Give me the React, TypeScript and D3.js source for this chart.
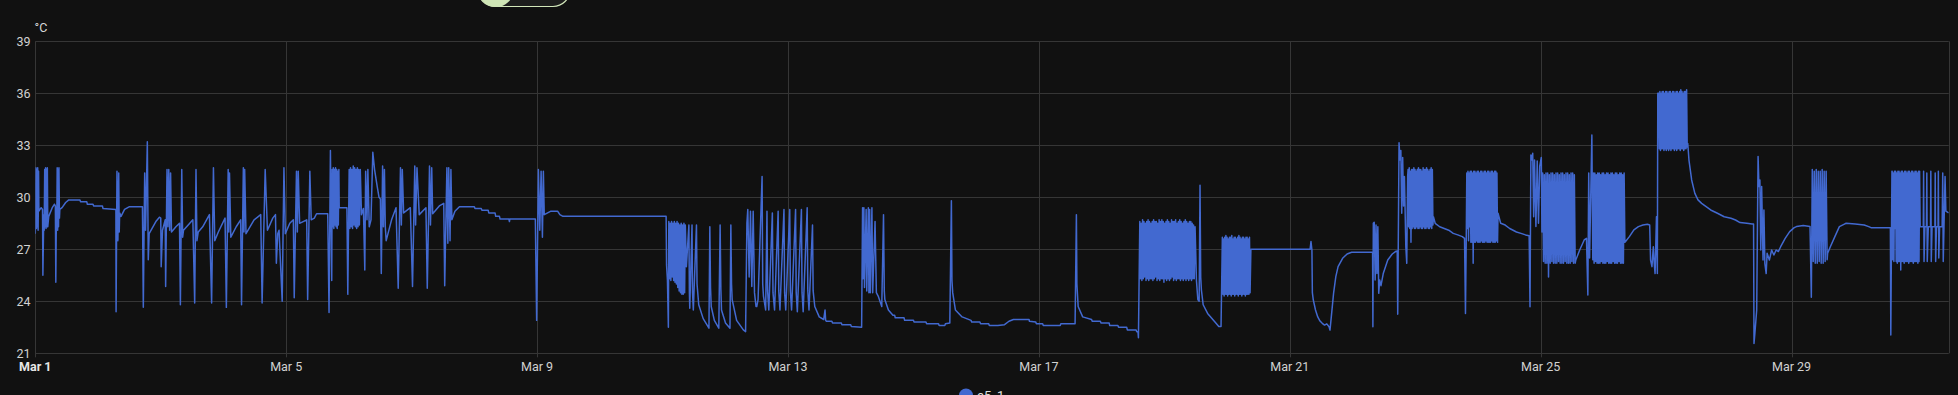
import React, { useMemo } from "react";
import * as d3 from "d3";

// temperature sensor, March
// times are days after Mar 1 00:00, temps in °C
const unit = "°C";
const seriesName = "e5_1";
const yTicks = [21, 24, 27, 30, 33, 36, 39];
const xTickDays = [1, 5, 9, 13, 17, 21, 25, 29];
const rangeDays = 30.505;

const mar1to9: [number, number][] = [
  [0.0, 27.9], [0.01, 31.7], [0.018, 28.2], [0.024, 31.6], [0.03, 28.3], [0.038, 31.7], [0.045, 28.1], [0.052, 31.5],
  [0.057, 29.2], [0.093, 29.4], [0.115, 29.3], [0.121, 25.5], [0.135, 29.0], [0.142, 28.1], [0.15, 31.6], [0.156, 28.3],
  [0.164, 31.7], [0.171, 28.2], [0.178, 31.6], [0.185, 28.3], [0.192, 31.7], [0.199, 28.3], [0.214, 28.9], [0.27, 29.4],
  [0.306, 29.6], [0.32, 29.5], [0.327, 25.1], [0.335, 28.5], [0.342, 28.2], [0.349, 31.7], [0.356, 28.1], [0.363, 31.6],
  [0.37, 28.3], [0.377, 31.7], [0.385, 28.8], [0.391, 29.3], [0.427, 29.4], [0.484, 29.7], [0.534, 29.85], [0.712, 29.85],
  [0.72, 29.75], [0.82, 29.75], [0.83, 29.6], [0.92, 29.6], [0.93, 29.5], [1.07, 29.5], [1.08, 29.35], [1.285, 29.3],
  [1.288, 23.4], [1.302, 31.5], [1.317, 27.5], [1.33, 31.4], [1.338, 28.0], [1.345, 29.1], [1.367, 28.9], [1.423, 29.3],
  [1.495, 29.45], [1.708, 29.45],
  [1.722, 23.65], [1.744, 31.4], [1.758, 28.1], [1.786, 33.2], [1.801, 26.4], [1.815, 27.9], [1.922, 28.6], [1.979, 28.85],
  [2.0, 28.8], [2.007, 26.0], [2.028, 28.1], [2.071, 28.7], [2.078, 24.85], [2.1, 31.6], [2.114, 28.3], [2.128, 31.6],
  [2.142, 28.1], [2.157, 31.4], [2.171, 28.0], [2.242, 28.3], [2.299, 28.5],
  [2.313, 23.8], [2.335, 31.6], [2.349, 27.7], [2.363, 28.1], [2.512, 28.7],
  [2.541, 23.9], [2.562, 31.6], [2.577, 27.5], [2.598, 28.0], [2.669, 28.3], [2.776, 29.0],
  [2.811, 23.9], [2.84, 31.7], [2.861, 27.5], [2.918, 28.0], [3.025, 28.8],
  [3.046, 23.65], [3.075, 31.6], [3.085, 28.0], [3.096, 31.4], [3.117, 27.7], [3.203, 28.3], [3.274, 28.7],
  [3.288, 23.8], [3.317, 31.7], [3.327, 28.0], [3.338, 31.6], [3.359, 27.9], [3.488, 28.7], [3.594, 29.0],
  [3.616, 23.9], [3.665, 31.6], [3.701, 28.1], [3.786, 28.8], [3.829, 29.0], [3.843, 26.2], [3.865, 27.9], [3.886, 28.1],
  [3.936, 24.0], [3.964, 31.7], [3.986, 27.9], [4.057, 28.5], [4.114, 28.7],
  [4.128, 24.2], [4.164, 31.5], [4.178, 28.0], [4.192, 31.5], [4.214, 28.5], [4.327, 28.7],
  [4.342, 24.1], [4.377, 31.5], [4.399, 28.7], [4.448, 28.8], [4.484, 29.05], [4.662, 29.05],
  [4.683, 23.35], [4.705, 32.7], [4.726, 25.2], [4.845, 29.4], [4.968, 29.4],
  [4.982, 24.4], [5.181, 31.6], [5.2, 29.0], [5.231, 29.35], [5.253, 25.8], [5.267, 31.5], [5.288, 28.7], [5.302, 31.6],
  [5.324, 28.3], [5.352, 28.7], [5.381, 32.6], [5.409, 31.6], [5.452, 30.6], [5.48, 30.0], [5.502, 29.9], [5.516, 25.6],
  [5.537, 31.8], [5.55, 28.3], [5.566, 31.6], [5.58, 28.3], [5.594, 27.5], [5.68, 28.7], [5.751, 29.4],
  [5.786, 24.75], [5.822, 31.7], [5.836, 28.4], [5.851, 31.6], [5.872, 29.1], [5.979, 29.4],
  [6.014, 24.85], [6.05, 31.8], [6.063, 28.4], [6.085, 31.7], [6.121, 29.0], [6.228, 29.4],
  [6.249, 24.75], [6.285, 31.8], [6.3, 28.4], [6.32, 31.7], [6.335, 29.05], [6.441, 29.5], [6.512, 29.65],
  [6.527, 24.9], [6.562, 31.7], [6.577, 27.35], [6.591, 31.7], [6.612, 27.5], [6.626, 31.6], [6.641, 28.7], [6.69, 29.2],
  [6.762, 29.45], [7.0, 29.45], [7.01, 29.35], [7.11, 29.35], [7.12, 29.25], [7.22, 29.25], [7.23, 29.1], [7.33, 29.1],
  [7.34, 28.9], [7.4, 28.9], [7.41, 28.75], [7.55, 28.75], [7.559, 28.6], [7.566, 28.75], [7.972, 28.75],
  [7.993, 22.9], [8.021, 31.6], [8.043, 28.1], [8.064, 31.5], [8.085, 27.7], [8.1, 31.5], [8.114, 29.0], [8.221, 29.2],
  [8.327, 29.2], [8.363, 29.0], [8.413, 28.9],
];

const mar9to17: [number, number][] = [
  [10.057, 28.9], [10.064, 26.1], [10.078, 25.2], [10.093, 22.5],
  [10.38, 26.0], [10.42, 28.4], [10.428, 24.5], [10.434, 23.6], [10.47, 28.4], [10.478, 24.5], [10.491, 23.5],
  [10.541, 28.4], [10.55, 25.0], [10.577, 23.8], [10.648, 23.0], [10.74, 22.45], [10.754, 28.3], [10.765, 24.8],
  [10.776, 23.7], [10.826, 22.9], [10.897, 22.45], [10.918, 28.4], [10.93, 24.7], [10.94, 23.5], [11.004, 22.75],
  [11.075, 22.45], [11.089, 28.4], [11.1, 25.0], [11.11, 24.1], [11.181, 22.9], [11.288, 22.35], [11.324, 22.25],
  [11.345, 28.5], [11.359, 29.3], [11.381, 25.4], [11.402, 29.2], [11.423, 24.85], [11.445, 29.2], [11.466, 24.5],
  [11.49, 23.7], [11.502, 23.7], [11.523, 24.1], [11.587, 31.2], [11.597, 25.0], [11.609, 24.3], [11.644, 23.5],
  [11.665, 29.2], [11.675, 24.6], [11.694, 23.5], [11.751, 29.1], [11.761, 24.5], [11.786, 23.5], [11.843, 29.2],
  [11.853, 24.6], [11.872, 23.5], [11.936, 29.3], [11.946, 24.5], [11.964, 23.5], [12.028, 29.3], [12.038, 24.6],
  [12.057, 23.5], [12.121, 29.3], [12.131, 24.5], [12.149, 23.4], [12.214, 29.3], [12.224, 24.5], [12.242, 23.4],
  [12.306, 29.4], [12.316, 24.6], [12.335, 23.5], [12.391, 28.4], [12.401, 24.6], [12.427, 23.7], [12.498, 23.1],
  [12.569, 22.95], [12.591, 23.5], [12.6, 22.9], [12.612, 22.85], [12.7, 22.85], [12.71, 22.75], [12.85, 22.75],
  [12.86, 22.65], [13.0, 22.65], [13.01, 22.55], [13.174, 22.5],
  [13.189, 29.4], [13.196, 25.3], [13.21, 29.4], [13.22, 24.8], [13.246, 29.3], [13.256, 24.6], [13.281, 29.4],
  [13.29, 24.5], [13.302, 29.3], [13.312, 24.5], [13.338, 29.4], [13.35, 24.5], [13.388, 28.6], [13.409, 24.5],
  [13.438, 24.3], [13.495, 23.7], [13.523, 29.0], [13.535, 24.6], [13.544, 24.1], [13.601, 23.5], [13.673, 23.2],
  [13.7, 23.2], [13.71, 23.05], [13.85, 23.05], [13.86, 22.9], [14.0, 22.9], [14.01, 22.8], [14.2, 22.8],
  [14.21, 22.7], [14.4, 22.7], [14.41, 22.6], [14.5, 22.6], [14.51, 22.7], [14.58, 22.75],
  [14.605, 29.8], [14.614, 25.2], [14.626, 24.5], [14.669, 23.5], [14.776, 23.1], [14.918, 22.9], [14.93, 22.8],
  [15.06, 22.8], [15.07, 22.7], [15.2, 22.7], [15.21, 22.6], [15.345, 22.6], [15.452, 22.65], [15.523, 22.85],
  [15.594, 22.95], [15.843, 22.95], [15.85, 22.85], [15.95, 22.8], [15.96, 22.7], [16.06, 22.7], [16.07, 22.6],
  [16.34, 22.6], [16.35, 22.7], [16.577, 22.7],
  [16.598, 29.0], [16.606, 25.0], [16.626, 23.7], [16.698, 23.1], [16.84, 22.95], [16.85, 22.85], [16.98, 22.85],
  [16.99, 22.75], [17.12, 22.75], [17.13, 22.6], [17.26, 22.6], [17.27, 22.5], [17.4, 22.5], [17.41, 22.35],
  [17.55, 22.35], [17.56, 22.25], [17.58, 22.25],
];

const mar17to25: [number, number][] = [
  [17.587, 21.9],
  [18.49, 28.3], [18.512, 25.2], [18.534, 24.1], [18.555, 24.0], [18.569, 30.7], [18.58, 25.4], [18.591, 24.65],
  [18.619, 23.8], [18.69, 23.3], [18.797, 22.85], [18.868, 22.55], [18.904, 22.55],
  [19.38, 27.0], [20.324, 27.0], [20.338, 27.45], [20.353, 26.96], [20.36, 24.5], [20.374, 24.1], [20.41, 23.5],
  [20.446, 23.1], [20.482, 22.86], [20.518, 22.73], [20.554, 22.63], [20.59, 22.7], [20.626, 22.53], [20.641, 22.34],
  [20.662, 23.1], [20.698, 24.46], [20.734, 25.42], [20.77, 26.0], [20.842, 26.48], [20.914, 26.73], [20.986, 26.83],
  [21.32, 26.83],
  [21.325, 22.53], [21.332, 28.5], [21.346, 28.56], [21.361, 25.23], [21.375, 28.4], [21.389, 25.6], [21.404, 28.3],
  [21.418, 24.46], [21.433, 25.23], [21.454, 24.9], [21.49, 25.6], [21.562, 26.38], [21.634, 26.73], [21.685, 26.87],
  [21.713, 26.9],
  [21.721, 23.26], [21.742, 33.15], [21.757, 32.15], [21.771, 32.7], [21.785, 29.08], [21.8, 32.3], [21.814, 29.5],
  [21.828, 31.2], [21.85, 27.15], [21.865, 26.19], [21.879, 31.2],
  [22.29, 28.88], [22.318, 28.5], [22.39, 28.3], [22.462, 28.2], [22.534, 28.1], [22.606, 27.92], [22.678, 27.83],
  [22.75, 27.73], [22.786, 27.63],
  [22.801, 23.3], [22.815, 28.2],
  [23.32, 29.08], [23.362, 28.5], [23.434, 28.4], [23.506, 28.2], [23.614, 28.0], [23.686, 27.92], [23.758, 27.83],
  [23.816, 27.78],
  [23.83, 23.69], [23.844, 32.44], [23.859, 32.15], [23.873, 32.54], [23.888, 28.88], [23.902, 32.15], [23.924, 28.31],
  [23.945, 32.1], [23.965, 28.5], [23.985, 31.8], [24.01, 32.3], [24.02, 28.0],
  [24.56, 26.38], [24.622, 26.96], [24.694, 27.54], [24.73, 27.63],
  [24.752, 24.36], [24.766, 31.4], [24.78, 26.5], [24.816, 33.6], [24.831, 26.4],
];

const mar25to31: [number, number][] = [
  [25.35, 27.44], [25.414, 27.73], [25.486, 28.12], [25.558, 28.31], [25.63, 28.4], [25.702, 28.44], [25.738, 28.4],
  [25.752, 26.38], [25.774, 26.0], [25.796, 27.15], [25.81, 26.2], [25.824, 25.6], [25.846, 28.88], [25.86, 25.6],
  [25.867, 36.0],
  [26.345, 33.1], [26.364, 32.15], [26.407, 31.0], [26.458, 30.23], [26.508, 29.85], [26.566, 29.65], [26.638, 29.46],
  [26.71, 29.27], [26.818, 29.08], [26.926, 28.88], [27.034, 28.79], [27.106, 28.69], [27.178, 28.54], [27.286, 28.5],
  [27.372, 28.46], [27.394, 28.46],
  [27.401, 21.57], [27.415, 22.15], [27.444, 23.5], [27.466, 32.35], [27.48, 30.62], [27.495, 31.0], [27.509, 26.96],
  [27.523, 30.62], [27.545, 26.38], [27.559, 29.27], [27.574, 26.19], [27.595, 25.6], [27.61, 26.77], [27.646, 26.38],
  [27.682, 26.96], [27.718, 26.67], [27.754, 26.96], [27.79, 26.87], [27.826, 27.15], [27.898, 27.63], [27.97, 28.02],
  [28.042, 28.25], [28.078, 28.31], [28.186, 28.37], [28.294, 28.31],
  [28.315, 24.23],
  [28.575, 26.77], [28.618, 27.15], [28.69, 27.73], [28.762, 28.31], [28.834, 28.44], [28.87, 28.5], [29.014, 28.46],
  [29.158, 28.4], [29.23, 28.31], [29.266, 28.25], [29.575, 28.25],
  [29.582, 22.05], [29.6, 31.5],
  [30.06, 28.3], [30.1, 28.3], [30.105, 31.5], [30.112, 26.3], [30.125, 28.3], [30.15, 28.3], [30.156, 31.4],
  [30.163, 26.3], [30.18, 28.3], [30.215, 28.3], [30.22, 31.5], [30.227, 26.3], [30.24, 28.3], [30.285, 28.3],
  [30.29, 31.4], [30.297, 26.3], [30.31, 28.3], [30.335, 28.3], [30.34, 31.5], [30.347, 26.5], [30.36, 28.3],
  [30.4, 28.3], [30.41, 31.4], [30.418, 26.3], [30.43, 28.3], [30.447, 31.2], [30.46, 29.2], [30.505, 29.1],
];

// fast on/off cycling, samples evenly spread between from and to
const bursts: { from: number; to: number; temps: number[] }[] = [
  { from: 4.733, to: 4.84, temps: [31.6, 28.3, 31.7, 28.2, 31.6, 28.4, 31.7, 28.3, 31.6, 28.2, 31.5, 28.4, 31.6] },
  { from: 5.004, to: 5.167, temps: [31.6, 28.2, 31.7, 28.3, 31.6, 28.2, 31.8, 28.4, 31.7, 28.3, 31.6, 28.2, 31.7, 28.3, 31.6, 28.4] },
  {
    from: 10.1, to: 10.363,
    temps: [28.6, 25.3, 28.5, 25.2, 28.6, 25.4, 28.5, 25.2, 28.6, 25.1, 28.5, 25.0, 28.6, 24.8, 28.5, 24.6, 28.4, 24.5, 28.5, 24.4, 28.4, 24.4, 28.5, 24.5, 28.4],
  },
  {
    from: 17.609, to: 18.477,
    temps: [
      28.6, 25.3, 28.5, 25.2, 28.7, 25.3, 28.6, 25.4, 28.5, 25.2, 28.6, 25.3, 28.7, 25.2, 28.6, 25.3, 28.5, 25.3, 28.6, 25.2,
      28.7, 25.3, 28.6, 25.4, 28.6, 25.2, 28.5, 25.3, 28.7, 25.2, 28.6, 25.3, 28.7, 25.3, 28.6, 25.1, 28.5, 25.3, 28.6, 25.2,
      28.7, 25.3, 28.6, 25.2, 28.5, 25.3, 28.7, 25.4, 28.6, 25.2, 28.6, 25.3, 28.7, 25.2, 28.5, 25.3, 28.6, 25.3, 28.7, 25.2,
      28.6, 25.3, 28.5, 25.2, 28.6, 25.3, 28.7, 25.2, 28.6, 25.3, 28.5, 25.2, 28.6, 25.3, 28.6, 25.2, 28.5, 25.3, 28.4, 25.3,
    ],
  },
  {
    from: 18.925, to: 19.367,
    temps: [
      27.7, 24.4, 27.6, 24.3, 27.7, 24.4, 27.8, 24.4, 27.7, 24.3, 27.6, 24.4, 27.7, 24.4, 27.7, 24.3, 27.8, 24.4, 27.6, 24.4,
      27.7, 24.3, 27.7, 24.4, 27.6, 24.4, 27.7, 24.3, 27.8, 24.4, 27.7, 24.4, 27.6, 24.3, 27.7, 24.4, 27.7, 24.4, 27.6, 24.3,
      27.7, 24.4, 27.7, 24.4, 27.6, 24.4, 27.7, 24.5,
    ],
  },
  {
    from: 21.886, to: 22.282,
    temps: [
      31.6, 28.3, 31.7, 28.2, 31.5, 27.4, 31.6, 28.2, 31.6, 28.3, 31.7, 28.2, 31.6, 28.2, 31.5, 28.3, 31.6, 28.2, 31.7, 28.2,
      31.6, 28.3, 31.6, 28.2, 31.5, 28.2, 31.7, 28.3, 31.6, 28.2, 31.6, 28.2, 31.7, 28.3, 31.6, 28.2, 31.5, 28.2, 31.6, 28.3,
      31.7, 28.2, 31.6, 28.4,
    ],
  },
  {
    from: 22.822, to: 23.312,
    temps: [
      31.4, 28.2, 31.5, 27.5, 31.4, 28.3, 31.5, 27.4, 31.5, 27.4, 31.4, 26.2, 31.5, 27.4, 31.5, 27.4, 31.4, 27.5, 31.5, 27.4,
      31.5, 27.4, 31.4, 27.4, 31.5, 27.5, 31.5, 27.4, 31.4, 27.4, 31.5, 27.4, 31.5, 27.5, 31.4, 27.4, 31.5, 27.4, 31.5, 27.4,
      31.4, 27.4, 31.5, 27.5, 31.5, 27.4, 31.4, 27.4, 31.5, 27.4, 31.5, 27.5, 31.4, 27.4,
    ],
  },
  {
    from: 24.032, to: 24.55,
    temps: [
      31.4, 26.3, 31.3, 26.2, 31.4, 26.2, 31.4, 25.4, 31.3, 26.2, 31.4, 26.3, 31.4, 26.2, 31.3, 26.2, 31.4, 26.2, 31.4, 26.3,
      31.3, 26.2, 31.4, 26.2, 31.4, 26.2, 31.3, 26.3, 31.4, 26.2, 31.4, 26.2, 31.3, 26.2, 31.4, 26.3, 31.4, 26.2, 31.3, 26.2,
    ],
  },
  {
    from: 24.84, to: 25.342,
    temps: [
      31.4, 26.2, 31.4, 26.3, 31.3, 26.2, 31.4, 26.2, 31.4, 26.2, 31.3, 26.3, 31.4, 26.2, 31.4, 26.2, 31.3, 26.2, 31.4, 26.3,
      31.4, 26.2, 31.3, 26.2, 31.4, 26.2, 31.4, 26.3, 31.3, 26.2, 31.4, 26.2, 31.4, 26.2, 31.3, 26.3, 31.4, 26.2, 31.4, 26.2,
      31.3, 26.2, 31.4, 27.4,
    ],
  },
  {
    from: 25.882, to: 26.336,
    temps: [
      36.0, 32.8, 36.1, 32.7, 36.0, 32.8, 36.1, 32.8, 36.1, 32.7, 36.0, 32.8, 36.1, 32.7, 36.1, 32.8, 36.0, 32.7, 36.1, 32.8,
      36.1, 32.7, 36.0, 32.8, 36.1, 32.8, 36.1, 32.7, 36.0, 32.8, 36.1, 32.7, 36.1, 32.8, 36.0, 32.8, 36.1, 32.7, 36.2, 32.8,
      36.1, 32.8, 36.0, 32.7, 36.1, 32.8, 36.1, 32.8, 36.2, 32.9,
    ],
  },
  { from: 28.33, to: 28.567, temps: [31.6, 26.3, 31.5, 26.2, 31.6, 26.2, 31.5, 26.3, 31.5, 26.2, 31.6, 26.2, 31.5, 26.3, 31.5, 26.4] },
  {
    from: 29.604, to: 30.05,
    temps: [
      31.5, 26.4, 31.4, 26.3, 31.5, 28.2, 31.5, 26.3, 31.4, 26.2, 31.5, 26.3, 31.5, 26.3, 31.4, 25.8, 31.5, 26.3, 31.5, 26.3,
      31.4, 26.2, 31.5, 26.3, 31.5, 26.3, 31.4, 26.3, 31.5, 26.2, 31.5, 26.3, 31.4, 26.3, 31.5, 26.3, 31.5, 26.2, 31.4, 26.3,
      31.5, 26.3, 31.5, 26.3, 31.4, 26.2, 31.5, 26.3, 31.5, 28.3,
    ],
  },
];

const DAY = 864e5;
const START = Date.UTC(2024, 2, 1);

const W = 1958;
const H = 395;
const M = { left: 35.3, right: 9.3, top: 41.3, bottom: 41.7 };

export default function App() {
  const points = useMemo(() => {
    const burstPts = bursts.flatMap((b) =>
      b.temps.map((v, i) => [b.from + ((b.to - b.from) * i) / (b.temps.length - 1), v] as [number, number])
    );
    return [...mar1to9, ...mar9to17, ...mar17to25, ...mar25to31, ...burstPts]
      .sort((a, b) => a[0] - b[0])
      .map(([d, v]) => ({ date: new Date(START + d * DAY), temp: v }));
  }, []);

  const x = d3
    .scaleUtc()
    .domain([new Date(START), new Date(START + rangeDays * DAY)])
    .range([M.left, W - M.right]);
  const y = d3.scaleLinear().domain([21, 39]).range([H - M.bottom, M.top]);

  const line = d3
    .line<{ date: Date; temp: number }>()
    .x((d) => x(d.date))
    .y((d) => y(d.temp));

  const fmt = d3.utcFormat("%b %-d");
  const xTicks = xTickDays.map((day) => new Date(Date.UTC(2024, 2, day)));
  const grid = "#363636";
  const font = "Roboto, 'Noto Sans', sans-serif";

  return (
    <div style={{ position: "absolute", left: 0, top: 0 }}>
      <svg width={W} height={H} style={{ display: "block", background: "#111111" }}>
        <defs>
          <clipPath id="plot">
            <rect x={M.left} y={M.top - 2} width={W - M.left - M.right} height={H - M.top - M.bottom + 4} />
          </clipPath>
        </defs>

        {/* the toggle sitting above the card, mostly cut off */}
        <rect x={478} y={-30} width={92} height={36.5} rx={17} fill="#1d1d1d" stroke="#d2e7ba" strokeWidth={1.2} />
        <circle cx={496} cy={-10.8} r={17.8} fill="#cfe5b6" />

        {yTicks.map((t) => (
          <g key={t}>
            <line x1={M.left} x2={W - M.right} y1={Math.round(y(t)) + 0.5} y2={Math.round(y(t)) + 0.5} stroke={grid} />
            <text x={30.5} y={y(t)} dy="0.36em" textAnchor="end" fill="#d2d2d2" fontSize={12.5} fontFamily={font}>
              {t}
            </text>
          </g>
        ))}
        <text x={34.5} y={32} fill="#d9d9d9" fontSize={12.5} fontFamily={font}>
          {unit}
        </text>

        {xTicks.map((d, i) => (
          <g key={i}>
            <line
              x1={Math.round(x(d)) + 0.5}
              x2={Math.round(x(d)) + 0.5}
              y1={M.top}
              y2={H - M.bottom + 4}
              stroke={grid}
            />
            <text
              x={x(d)}
              y={370.5}
              textAnchor="middle"
              fill={i === 0 ? "#e6e6e6" : "#d2d2d2"}
              fontWeight={i === 0 ? 700 : 400}
              fontSize={12.5}
              fontFamily={font}
            >
              {fmt(d)}
            </text>
          </g>
        ))}
        <line
          x1={Math.round(W - M.right) + 0.5}
          x2={Math.round(W - M.right) + 0.5}
          y1={M.top}
          y2={H - M.bottom}
          stroke={grid}
        />

        <path
          d={line(points) ?? ""}
          fill="none"
          stroke="#4269d0"
          strokeWidth={1.5}
          strokeLinejoin="round"
          clipPath="url(#plot)"
        />

        <circle cx={966} cy={395.5} r={7} fill="#4269d0" />
        <text x={977} y={400} fill="#e1e1e1" fontSize={13} fontFamily={font}>
          {seriesName}
        </text>
      </svg>
    </div>
  );
}
